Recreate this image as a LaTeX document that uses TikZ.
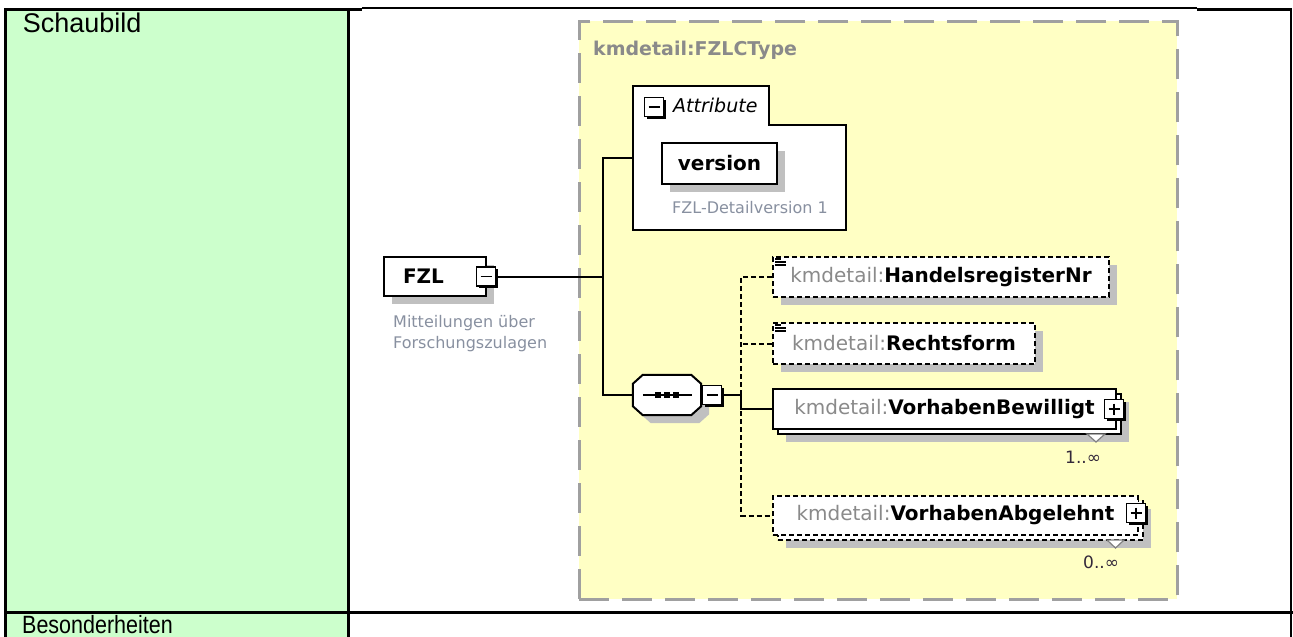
\documentclass[tikz,border=0pt]{standalone}
\usepackage{fontspec}
\setmainfont{DejaVu Sans}
\newfontfamily\arialf{Liberation Sans}
\usetikzlibrary{calc}
\definecolor{cellgreen}{HTML}{CCFFCC}
\definecolor{ctyellow}{HTML}{FFFFC4}
\definecolor{ctborder}{HTML}{A0A0A0}
\definecolor{shadowc}{HTML}{C0C0C0}
\definecolor{nsgray}{HTML}{8A8A8A}
\definecolor{descgray}{HTML}{8890A0}
\definecolor{occur}{HTML}{33283A}
\tikzset{
  shad/.style={preaction={fill=shadowc, draw=none, transform canvas={shift={(8pt,-8pt)}}}},
  elem/.style={draw, line width=2pt, fill=white, minimum height=40pt, inner sep=0pt,
    font=\fontsize{20}{24}\selectfont, anchor=north west},
  optelem/.style={elem, dash pattern=on 5pt off 3pt},
  expbox/.style={draw, line width=1.6pt, fill=white, minimum size=19pt, inner sep=0pt,
    preaction={fill=black, draw=none, transform canvas={shift={(2pt,-2pt)}}}},
  minusbox/.style={expbox, path picture={\draw[line width=1.4pt]
      ([xshift=4pt]path picture bounding box.west) -- ([xshift=-4pt]path picture bounding box.east);}},
  plusbox/.style={expbox, path picture={\draw[line width=1.4pt]
      ([xshift=4pt]path picture bounding box.west) -- ([xshift=-4pt]path picture bounding box.east)
      ([yshift=-4pt]path picture bounding box.north) -- ([yshift=4pt]path picture bounding box.south);}},
  conn/.style={line width=2pt},
  dconn/.style={line width=2pt, dash pattern=on 5pt off 3pt},
  tline/.style={line width=3pt},
  desc/.style={text=descgray, font=\fontsize{16}{21}\selectfont, inner sep=0pt},
  occtxt/.style={text=occur, font=\fontsize{17}{19}\selectfont, inner sep=0pt, anchor=base west},
  multi/.style={fill=white, draw=gray, line width=1.2pt},
  icon/.style={line width=1.3pt}
}
\begin{document}
\begin{tikzpicture}[x=1pt, y=-1pt]
\useasboundingbox (0,0) rectangle (1293,637);
% table
\fill[cellgreen] (7,10) rectangle (347,611);
\fill[cellgreen] (7,614) rectangle (347,637);
\draw[tline] (4,9) -- (362,9);
\draw[line width=1.3pt] (362,8) -- (1197,8);
\draw[tline] (1197,9) -- (1291,9);
\draw[tline] (5.5,8) -- (5.5,637);
\draw[tline] (348.5,8) -- (348.5,637);
\draw[line width=2pt] (1291,8) -- (1291,637);
\draw[tline] (4,612.3) -- (1293,612.3);
\node[anchor=base west, inner sep=0pt, font=\arialf\fontsize{27}{30}\selectfont] (schau) at (22.7,32) {Schaubild};
\node[anchor=base west, inner sep=0pt, font=\arialf\fontsize{25}{30}\selectfont] (beso) at (22,633) {\scalebox{0.86}[1]{Besonderheiten}};
% complex type container
\node[draw=ctborder, fill=ctyellow, line width=2.5pt, dash pattern=on 30pt off 13pt,
  minimum width=598pt, minimum height=578pt, inner sep=0pt, anchor=north west] (ct) at (578,20) {};
\node[anchor=base west, inner sep=0pt, text=nsgray, font=\bfseries\fontsize{19}{22}\selectfont] (cttitle) at (593,55) {kmdetail:FZLCType};
% attribute group
\node[minimum width=213pt, minimum height=144pt, inner sep=0pt, anchor=north west] (attr) at (633,86) {};
\draw[line width=2pt, fill=white] (attr.north west) -- ($(attr.north west)+(136,0)$) -- ($(attr.north west)+(136,39)$)
  -- ($(attr.north east)+(0,39)$) -- (attr.south east) -- (attr.south west) -- cycle;
\node[minusbox] (attrmin) at (654,107) {};
\node[anchor=base west, inner sep=0pt, font=\itshape\fontsize{19}{22}\selectfont] (attrlbl) at (673,112) {Attribute};
\node[elem, shad, minimum width=115pt, minimum height=41pt] (version) at (661,142) {\textbf{version}};
\node[desc, anchor=base] (verdesc) at (750,213) {FZL-Detailversion 1};
% root element
\node[elem, shad, minimum width=102pt, minimum height=39pt, anchor=north west, text width=64pt, inner xsep=19pt, align=left] (fzl) at (383,256) {\textbf{FZL}};
\node[minusbox] (fzlmin) at (486,276.5) {};
\node[desc, anchor=north west, align=left] (fzldesc) at (393,315) {Mitteilungen über\\Forschungszulagen};
% sequence
\node[minimum width=68pt, minimum height=40pt, inner sep=0pt] (seq) at (667,395) {};
\draw[line width=2pt, fill=white, shad] ($(seq.north west)+(10,0)$) -- ($(seq.north east)+(-10,0)$)
  -- ($(seq.north east)+(0,9)$) -- ($(seq.south east)+(0,-9)$) -- ($(seq.south east)+(-10,0)$)
  -- ($(seq.south west)+(10,0)$) -- ($(seq.south west)+(0,-9)$) -- ($(seq.north west)+(0,9)$) -- cycle;
\draw[line width=2pt] ($(seq.west)+(10,0)$) -- ($(seq.east)+(-9,0)$);
\fill ($(seq.center)+(-12,-3)$) rectangle +(6,6);
\fill ($(seq.center)+(-3,-3)$) rectangle +(6,6);
\fill ($(seq.center)+(6,-3)$) rectangle +(6,6);
\node[minusbox] (seqmin) at (712,395) {};
% child elements
\node[optelem, shad, minimum width=336pt] (hr) at (772,256) {{\color{nsgray}kmdetail:}\textbf{HandelsregisterNr}};
\draw[icon] (775,259) -- (781,259) (775,262) -- (786,262) (775,265) -- (786,265);
\node[optelem, shad, minimum width=262pt, minimum height=41pt] (rf) at (772,322) {{\color{nsgray}kmdetail:}\textbf{Rechtsform}};
\draw[icon] (775,325) -- (781,325) (775,328) -- (786,328) (775,331) -- (786,331);
\node[elem, shad, minimum width=343pt] (bwback) at (777,393) {};
\node[elem, minimum width=343pt] (bw) at (772,388) {{\color{nsgray}kmdetail:}\textbf{VorhabenBewilligt}};
\draw[multi] (1087,434) -- (1105,434) -- (1096,442) -- cycle;
\node[plusbox] (bwplus) at (1114,409) {};
\node[occtxt] (bwocc) at (1065,463) {1..∞};
\node[optelem, shad, minimum width=365pt, minimum height=39pt] (abback) at (777,500) {};
\node[optelem, minimum width=365pt, minimum height=39pt] (ab) at (772,495) {{\color{nsgray}kmdetail:}\textbf{VorhabenAbgelehnt}};
\draw[multi] (1107,540) -- (1124,540) -- (1115.5,548) -- cycle;
\node[plusbox] (abplus) at (1136,513) {};
\node[occtxt] (abocc) at (1083,568) {0..∞};
% connectors
\coordinate (trunk) at (603,276.5);
\coordinate (j2) at (741,395);
\draw[conn] (fzlmin.east) -- (trunk);
\draw[conn] (attr.west) -| (trunk) |- (seq.west);
\draw[conn] (seqmin.east) -- (j2);
\draw[dconn] (hr.west) -| (j2);
\draw[dconn] (rf.west) -- (rf.west -| j2);
\draw[dconn] (j2) |- (ab.west);
\draw[conn] (j2) |- (bw.west);
\end{tikzpicture}
\end{document}
